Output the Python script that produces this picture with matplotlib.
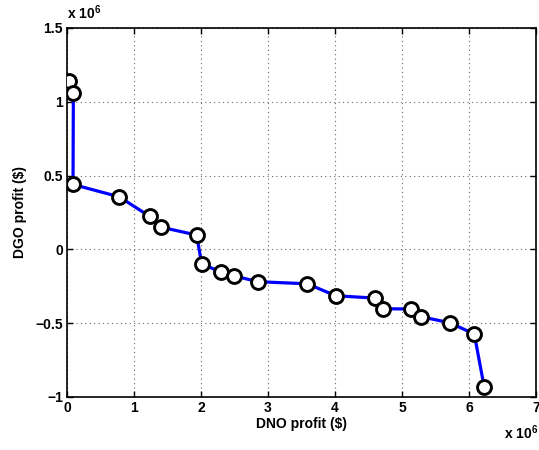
import matplotlib
matplotlib.use("Agg")
import matplotlib.pyplot as plt

dno_profit = [0.035, 0.095, 0.09, 0.78, 1.234, 1.40, 1.935, 2.01, 2.30, 2.49, 2.85,
              3.587, 4.01, 4.597, 4.72, 5.134, 5.279, 5.716, 6.08, 6.228]
dgo_profit = [1.14, 1.061, 0.44, 0.356, 0.224, 0.151, 0.097, -0.098, -0.154, -0.179, -0.219,
              -0.233, -0.314, -0.33, -0.402, -0.404, -0.456, -0.497, -0.574, -0.933]
xticks = [0, 1, 2, 3, 4, 5, 6, 7]
yticks = [-1, -0.5, 0, 0.5, 1, 1.5]
ytick_labels = ["\u22121", "\u22120.5", "0", "0.5", "1", "1.5"]

plt.rcParams['font.family'] = ['Liberation Sans', 'DejaVu Sans']
plt.rcParams['font.weight'] = 'bold'
plt.rcParams['mathtext.fontset'] = 'custom'
plt.rcParams['mathtext.default'] = 'bf'
plt.rcParams['mathtext.bf'] = 'Liberation Sans:bold'
plt.rcParams['mathtext.rm'] = 'Liberation Sans:bold'

fig = plt.figure(figsize=(5.39, 4.5), dpi=100)
ax = fig.add_axes([0.1243, 0.1178, 0.870, 0.820])

ax.plot(dno_profit, dgo_profit, '-', color='#0000ff', lw=2.3, zorder=2)
ax.plot(dno_profit, dgo_profit, 'o', ms=10, mfc='white', mec='black', mew=2.1, zorder=3)

ax.set_xlim(0, 7)
ax.set_ylim(-1, 1.5)
ax.set_xticks(xticks)
ax.set_xticklabels([str(t) for t in xticks], fontsize=10, fontweight='bold')
ax.set_yticks(yticks)
ax.set_yticklabels(ytick_labels, fontsize=10, fontweight='bold')
ax.tick_params(direction='in', length=4, width=1, pad=3)
ax.tick_params(top=True, right=True)
ax.grid(True, linestyle=(0, (1, 3)), color='#666666', linewidth=0.8)
for s in ax.spines.values():
    s.set_linewidth(1.2)

ax.set_xlabel('DNO profit ($)', fontsize=10, fontweight='bold', labelpad=1)
ax.set_ylabel('DGO profit ($)', fontsize=10, fontweight='bold', labelpad=6)

fig.text(0.124, 0.952, r'x 10$^{6}$', fontsize=10, fontweight='bold', ha='left', va='bottom')
fig.text(0.998, 0.018, r'x 10$^{6}$', fontsize=10, fontweight='bold', ha='right', va='bottom')

fig.savefig('out.png', dpi=100)
